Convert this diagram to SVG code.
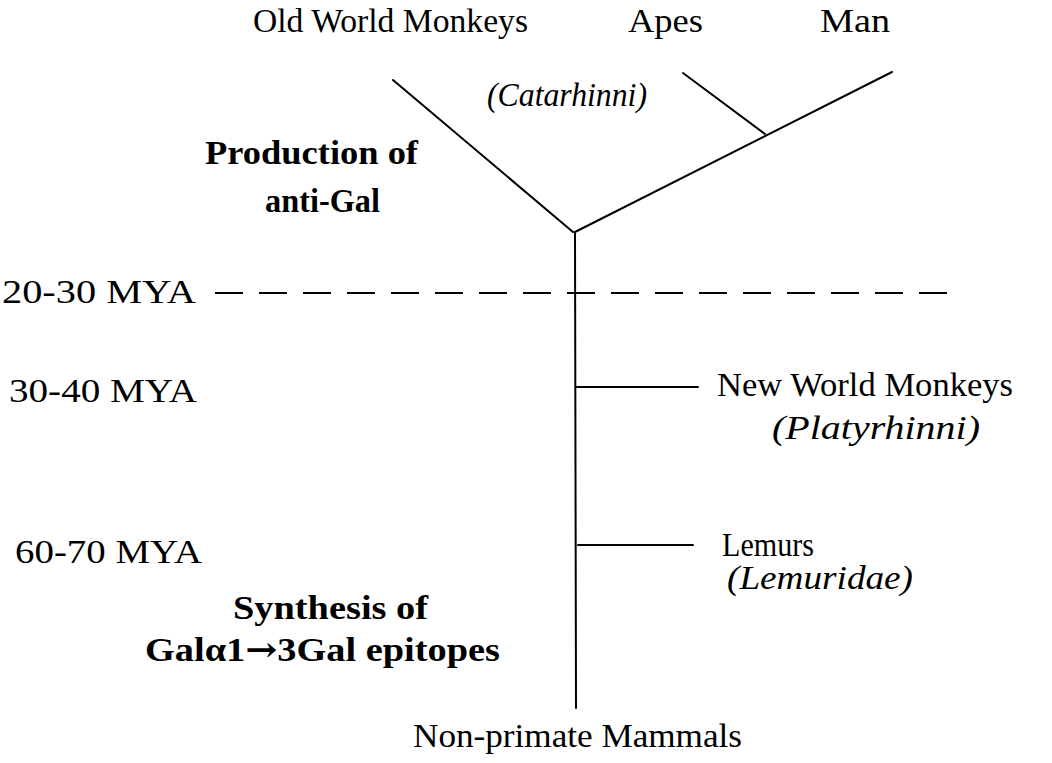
<svg xmlns="http://www.w3.org/2000/svg" width="1052" height="763" viewBox="0 0 1052 763">
<style>
.ln{stroke:#000;stroke-width:2;fill:none;stroke-linecap:round}
.i{font-style:italic}
.b{font-weight:bold}
</style>
<rect width="1052" height="763" fill="#fff"/>
<g id="connectors">
<line class="ln" x1="575" y1="232" x2="576" y2="708" stroke-width="2.5"/>
<line class="ln" x1="393" y1="80" x2="573" y2="232"/>
<line class="ln" x1="575" y1="232" x2="892" y2="72"/>
<line class="ln" x1="683" y1="73" x2="765" y2="134"/>
<line class="ln" x1="576" y1="387" x2="698" y2="387"/>
<line class="ln" x1="578" y1="545" x2="693" y2="545"/>
<line x1="215" y1="293" x2="948" y2="293" stroke="#000" stroke-width="2" stroke-dasharray="28 16"/>
</g>
<g font-family="Liberation Serif, Times New Roman, serif" font-size="33" fill="#000">
<g id="node-owm"><text x="253" y="32" textLength="275" lengthAdjust="spacingAndGlyphs">Old World Monkeys</text></g>
<g id="node-apes"><text x="628" y="32" textLength="75" lengthAdjust="spacingAndGlyphs">Apes</text></g>
<g id="node-man"><text x="820" y="32" textLength="70" lengthAdjust="spacingAndGlyphs">Man</text></g>
<g id="node-catarhinni"><text class="i" x="487" y="106" textLength="160" lengthAdjust="spacingAndGlyphs">(Catarhinni)</text></g>
<g id="node-antigal" font-size="34">
<text class="b" x="205" y="164" textLength="213" lengthAdjust="spacingAndGlyphs">Production of</text>
<text class="b" x="265" y="212" textLength="115" lengthAdjust="spacingAndGlyphs">anti-Gal</text>
</g>
<g id="node-2030"><text x="2" y="303" textLength="194" lengthAdjust="spacingAndGlyphs">20-30 MYA</text></g>
<g id="node-3040"><text x="9" y="402" textLength="188" lengthAdjust="spacingAndGlyphs">30-40 MYA</text></g>
<g id="node-6070"><text x="15" y="563" textLength="187" lengthAdjust="spacingAndGlyphs">60-70 MYA</text></g>
<g id="node-nwm">
<text x="717" y="396" textLength="296" lengthAdjust="spacingAndGlyphs">New World Monkeys</text>
<text class="i" x="772" y="439" textLength="208" lengthAdjust="spacingAndGlyphs">(Platyrhinni)</text>
</g>
<g id="node-lemurs">
<text x="722" y="556" textLength="92" lengthAdjust="spacingAndGlyphs">Lemurs</text>
<text class="i" x="727" y="589" textLength="186" lengthAdjust="spacingAndGlyphs">(Lemuridae)</text>
</g>
<g id="node-synthesis" font-size="34">
<text class="b" x="233" y="619" textLength="195" lengthAdjust="spacingAndGlyphs">Synthesis of</text>
<text class="b" x="145" y="661" textLength="355" lengthAdjust="spacingAndGlyphs">Galα1<tspan font-family="DejaVu Serif, serif">→</tspan>3Gal epitopes</text>
</g>
<g id="node-nonprimate"><text x="413" y="747" textLength="329" lengthAdjust="spacingAndGlyphs">Non-primate Mammals</text></g>
</g>
</svg>
